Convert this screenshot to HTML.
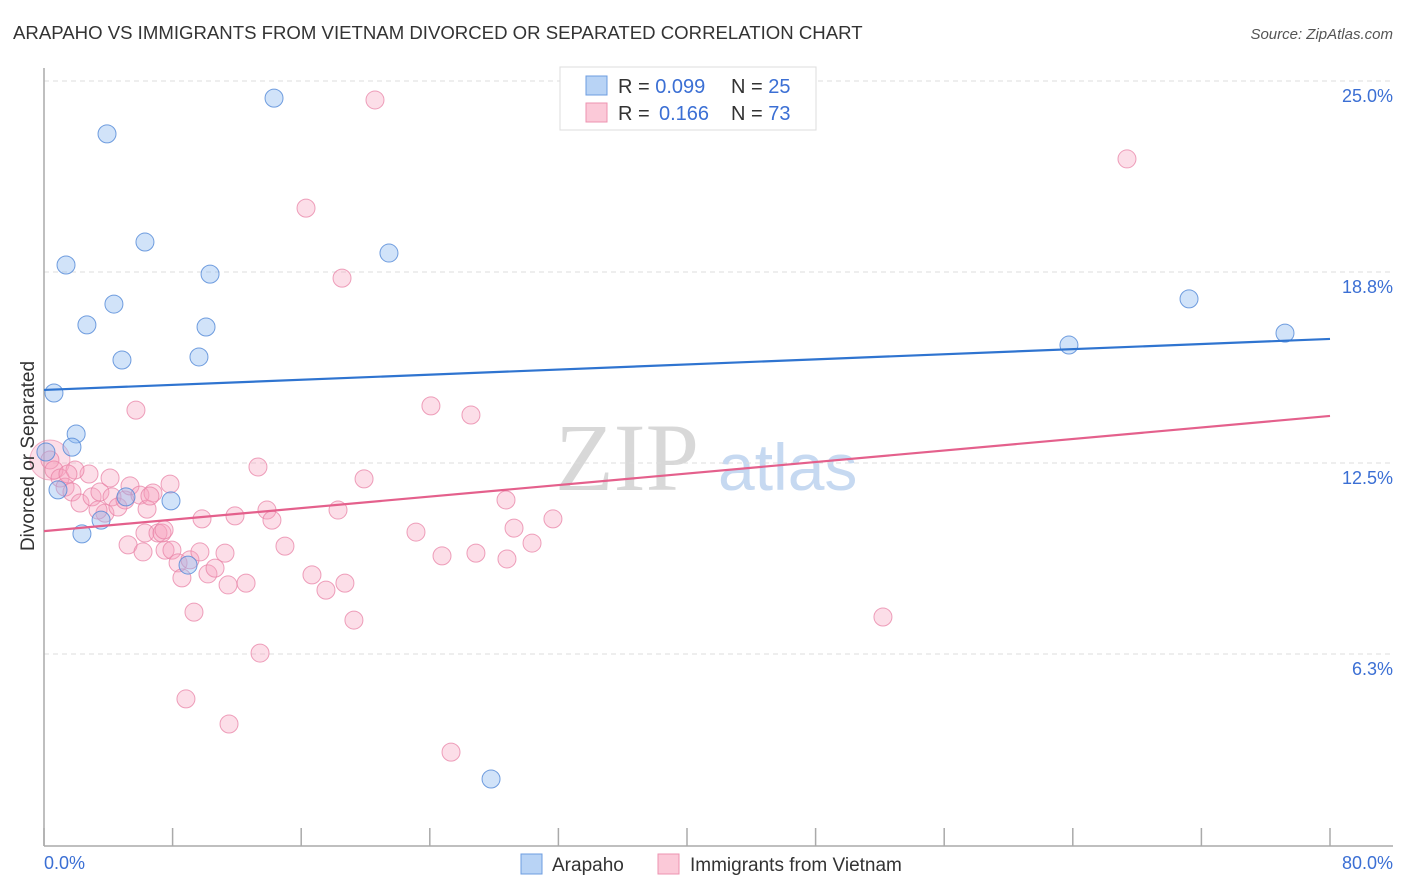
<!DOCTYPE html>
<html><head><meta charset="utf-8"><style>
body{margin:0;background:#fff;font-family:"Liberation Sans",sans-serif}
svg{display:block}
</style></head><body>
<svg id="chart" width="1406" height="892" viewBox="0 0 1406 892">
<text x="13" y="39" font-size="18.6" fill="#333">ARAPAHO VS IMMIGRANTS FROM VIETNAM DIVORCED OR SEPARATED CORRELATION CHART</text>
<text x="1393" y="39" font-size="15" fill="#555" font-style="italic" text-anchor="end">Source: ZipAtlas.com</text>
<g>
<text x="555" y="490" font-size="96" font-family="Liberation Serif,serif" fill="#d8d8d8">ZIP</text>
<text x="718" y="490" font-size="66" fill="#c6d9f1">atlas</text>
</g>
<g id="grid"></g>
<g id="axes"></g>
<g id="marks"></g>
<text transform="translate(34,456) rotate(-90)" font-size="19" fill="#333" text-anchor="middle">Divorced or Separated</text>
<g>
<rect x="560" y="67" width="256" height="63" fill="#fff" stroke="#ddd"/>
<rect x="586" y="76" width="21" height="19" fill="#b8d3f5" stroke="#6d9de0"/>
<rect x="586" y="103" width="21" height="19" fill="#fbc9d8" stroke="#ee93b0"/>
<text x="618" y="93" font-size="20" fill="#333">R = <tspan fill="#3b6fd4">0.099</tspan></text>
<text x="731" y="93" font-size="20" fill="#333">N = <tspan fill="#3b6fd4">25</tspan></text>
<text x="618" y="120" font-size="20" fill="#333">R = <tspan x="659" fill="#3b6fd4">0.166</tspan></text>
<text x="731" y="120" font-size="20" fill="#333">N = <tspan fill="#3b6fd4">73</tspan></text>
</g>
<g>
<rect x="521" y="854" width="21" height="20" fill="#b8d3f5" stroke="#6d9de0"/>
<text x="552" y="871" font-size="19" fill="#333">Arapaho</text>
<rect x="658" y="854" width="21" height="20" fill="#fbc9d8" stroke="#ee93b0"/>
<text x="690" y="871" font-size="19" fill="#333">Immigrants from Vietnam</text>
</g>
</svg>
<script>
const blueX=[14.31,3.92,6.28,1.37,10.33,21.46,4.35,2.67,10.08,4.85,9.64,0.62,2.00,1.74,0.12,0.87,5.10,7.90,3.55,2.36,8.96,27.81,63.76,71.23,77.20];
const blueY=[24.44,23.27,19.73,18.98,18.68,19.37,17.70,17.02,16.95,15.87,15.97,14.79,13.45,13.02,12.86,11.62,11.39,11.26,10.63,10.18,9.16,2.16,16.36,17.87,16.75];
const pinkX=[20.59,67.37,16.30,18.54,5.72,24.07,26.56,13.31,19.91,2.80,0.37,0.62,1.00,1.31,1.74,2.24,2.99,3.48,3.79,4.23,4.60,5.04,5.35,5.97,6.41,6.78,7.84,5.23,6.28,7.09,7.34,7.53,7.96,8.34,8.58,9.08,9.70,10.20,10.64,11.26,11.45,9.83,11.88,12.57,9.33,8.83,11.51,13.44,13.87,14.18,14.99,16.67,17.54,18.29,18.72,19.28,23.14,24.76,25.32,26.87,28.74,28.80,29.24,30.36,31.66,52.19,6.16,7.47,6.59,4.11,1.93,3.36,1.49];
const pinkY=[24.38,22.45,20.84,18.55,14.23,14.37,14.07,12.37,11.98,12.14,12.60,12.27,12.01,11.71,11.55,11.19,11.39,11.55,10.86,11.39,11.06,11.29,11.75,11.45,10.99,11.52,11.81,9.82,10.21,10.21,10.21,9.65,9.65,9.23,8.74,9.33,9.59,8.87,9.06,9.55,8.51,10.67,10.77,8.57,7.62,4.78,3.96,6.28,10.96,10.63,9.78,8.84,8.34,10.96,8.57,7.36,10.24,9.46,3.04,9.55,11.29,9.36,10.37,9.88,10.67,7.46,9.59,10.31,11.42,12.01,12.27,10.96,12.14];
const trendBlue=[14.89,16.56];
const trendPink=[10.27,14.04];
const yTicks=[25.0,18.75,12.5,6.25];
const yTickLabels=["25.0%","18.8%","12.5%","6.3%"];
const xTickVals=[0,8,16,24,32,40,48,56,64,72,80];
const xEndLabels=["0.0%","80.0%"];
const NS="http://www.w3.org/2000/svg";
const X0=44,X1=1330,XMAX=80,Y0=845,YS=30.56;
function sx(v){return X0+(X1-X0)*v/XMAX;}
function sy(v){return Y0-YS*v;}
function mk(tag,attrs,parent){const e=document.createElementNS(NS,tag);for(const k in attrs)e.setAttribute(k,attrs[k]);parent.appendChild(e);return e;}
const grid=document.getElementById('grid'),axes=document.getElementById('axes'),marks=document.getElementById('marks');
yTicks.forEach((t,i)=>{
 const g=mk('line',{x1:44,x2:1393,y1:sy(t),y2:sy(t),stroke:'#ddd','stroke-dasharray':'5,4'},grid);
 
 
 const l=mk('text',{x:1393,y:sy(t)+21,'font-size':18,fill:'#3b6fd4','text-anchor':'end'},axes);
 l.textContent=yTickLabels[i];
 
 
});
let a=mk('line',{x1:44,x2:44,y1:68,y2:846,stroke:'#aaa','stroke-width':1.5},axes);


a=mk('line',{x1:44,x2:1393,y1:846,y2:846,stroke:'#aaa','stroke-width':1.5},axes);


xTickVals.forEach(v=>{
 const t=mk('line',{x1:sx(v),x2:sx(v),y1:828,y2:846,stroke:'#aaa','stroke-width':1.5},axes);
 
 
});
let xl=mk('text',{x:44,y:869,'font-size':18,fill:'#3b6fd4'},axes);xl.textContent=xEndLabels[0];


xl=mk('text',{x:1393,y:869,'font-size':18,fill:'#3b6fd4','text-anchor':'end'},axes);xl.textContent=xEndLabels[1];


let big=mk('circle',{cx:sx(pinkX[10]),cy:sy(pinkY[10]),r:20,fill:'rgba(245,160,190,0.35)',stroke:'rgba(232,130,165,0.6)'},marks);


pinkX.forEach((v,i)=>{
 const c=mk('circle',{cx:sx(v),cy:sy(pinkY[i]),r:9,fill:'rgba(245,160,190,0.35)',stroke:'rgba(232,130,165,0.75)','stroke-width':1},marks);
 
 
});
blueX.forEach((v,i)=>{
 const c=mk('circle',{cx:sx(v),cy:sy(blueY[i]),r:9,fill:'rgba(140,185,240,0.4)',stroke:'rgba(80,135,215,0.8)','stroke-width':1},marks);
 
 
});
let tl=mk('line',{x1:sx(0),x2:sx(80),y1:sy(trendBlue[0]),y2:sy(trendBlue[1]),stroke:'#2f74d0','stroke-width':2.2},marks);


tl=mk('line',{x1:sx(0),x2:sx(80),y1:sy(trendPink[0]),y2:sy(trendPink[1]),stroke:'#e4608c','stroke-width':2.2},marks);


</script>
</body></html>
